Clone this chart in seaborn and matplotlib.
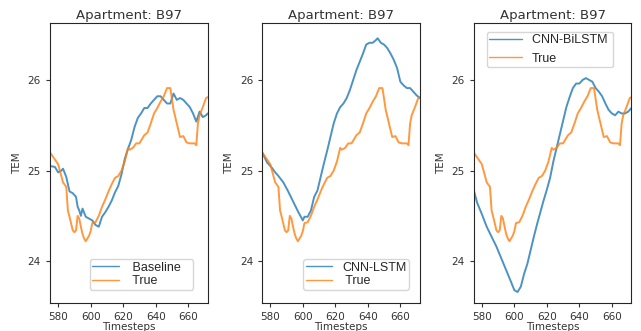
import matplotlib
matplotlib.use("Agg")
from matplotlib import pyplot as plt
import pandas as pd
import seaborn as sns

# measured true temperature
true_x = [575, 580, 583, 585, 586, 587, 589, 590, 591, 592, 593, 594, 595, 596, 597, 599,
          600, 601, 603, 605, 607, 609, 611, 613, 615, 617, 619, 621, 623, 624, 626, 628,
          630, 633, 635, 637, 639, 641, 643, 645, 647, 649, 651, 653, 655, 657, 659, 661,
          663, 664, 665, 666, 667, 669, 671, 672]
true_y = [25.2, 25.07, 24.87, 24.82, 24.56, 24.49, 24.34, 24.32, 24.34, 24.5, 24.47, 24.38,
          24.3, 24.25, 24.22, 24.28, 24.33, 24.42, 24.43, 24.5, 24.6, 24.68, 24.77, 24.85,
          24.92, 24.94, 25.0, 25.1, 25.25, 25.23, 25.25, 25.3, 25.3, 25.39, 25.42, 25.52,
          25.63, 25.69, 25.76, 25.82, 25.91, 25.91, 25.67, 25.52, 25.37, 25.38, 25.31, 25.3,
          25.3, 25.3, 25.28, 25.52, 25.61, 25.7, 25.8, 25.81]

baseline_x = [575, 578, 580, 582, 583, 585, 587, 589, 591, 592, 593, 594, 595, 597, 599,
              601, 603, 605, 607, 609, 611, 613, 615, 617, 619, 621, 623, 625, 627, 629,
              631, 633, 635, 637, 639, 641, 643, 645, 647, 649, 651, 653, 655, 657, 659,
              661, 663, 665, 667, 669, 671, 672]
baseline_y = [25.05, 25.04, 24.98, 25.0, 25.02, 24.93, 24.77, 24.75, 24.71, 24.6, 24.56,
              24.5, 24.58, 24.49, 24.47, 24.45, 24.4, 24.38, 24.49, 24.54, 24.6, 24.67,
              24.76, 24.83, 24.96, 25.13, 25.24, 25.34, 25.48, 25.58, 25.63, 25.69, 25.69,
              25.74, 25.78, 25.82, 25.82, 25.78, 25.74, 25.74, 25.85, 25.78, 25.8, 25.78,
              25.74, 25.7, 25.63, 25.54, 25.65, 25.59, 25.61, 25.63]

cnn_lstm_x = [575, 578, 581, 583, 585, 588, 591, 594, 597, 600, 601, 603, 605, 607, 609,
              611, 613, 615, 617, 619, 621, 623, 625, 627, 629, 631, 633, 635, 637, 639,
              641, 643, 645, 646, 648, 650, 652, 654, 656, 658, 660, 662, 664, 666, 668,
              670, 672]
cnn_lstm_y = [25.2, 25.09, 25.03, 24.98, 24.94, 24.87, 24.77, 24.66, 24.55, 24.45, 24.49,
              24.49, 24.56, 24.71, 24.78, 24.93, 25.08, 25.22, 25.37, 25.52, 25.63, 25.7,
              25.74, 25.8, 25.89, 26.0, 26.11, 26.2, 26.29, 26.39, 26.41, 26.41, 26.44,
              26.46, 26.41, 26.39, 26.35, 26.29, 26.22, 26.13, 25.98, 25.94, 25.91, 25.91,
              25.87, 25.83, 25.8]

cnn_bilstm_x = [575, 577, 580, 583, 586, 589, 592, 595, 598, 600, 602, 604, 606, 608, 610,
                612, 614, 616, 618, 620, 622, 624, 626, 628, 630, 632, 634, 636, 638, 640,
                642, 644, 646, 648, 650, 652, 654, 656, 658, 660, 662, 664, 666, 668, 670,
                672]
cnn_bilstm_y = [24.79, 24.65, 24.52, 24.38, 24.27, 24.16, 24.03, 23.9, 23.77, 23.68, 23.66,
                23.72, 23.86, 23.97, 24.12, 24.27, 24.41, 24.54, 24.67, 24.79, 24.92, 25.1,
                25.25, 25.4, 25.55, 25.7, 25.81, 25.91, 25.96, 25.96, 26.0, 26.02, 26.0,
                25.98, 25.91, 25.87, 25.82, 25.74, 25.67, 25.63, 25.61, 25.65, 25.63, 25.63,
                25.65, 25.69]

pred_labels = [" Baseline   ", "CNN-LSTM", "CNN-BiLSTM "]
true_labels = [" True", " True", "True"]
preds = [(baseline_x, baseline_y), (cnn_lstm_x, cnn_lstm_y), (cnn_bilstm_x, cnn_bilstm_y)]

sns.set_style("ticks")
plt.rcParams["font.family"] = ["DejaVu Sans"]

fig = plt.figure(figsize=(6.41, 3.31), dpi=100)
lefts = [0.078, 0.409, 0.739]
# legend loc, anchor, label spacing, handle length per panel
legend_pos = [("lower left", (0.253, 0.046), 0.15, 2.1),
              ("lower left", (0.262, 0.046), 0.15, 2.1),
              ("upper left", (0.083, 0.968), 0.5, 2.6)]

true_df = pd.DataFrame({"t": true_x, "v": true_y})
for i, (px, py) in enumerate(preds):
    ax = fig.add_axes([lefts[i], 0.085, 0.246, 0.846])
    pdf = pd.DataFrame({"t": px, "v": py})
    sns.lineplot(data=pdf, x="t", y="v", ax=ax, color="#1f77b4", alpha=0.8,
                 linewidth=1.4, label=pred_labels[i])
    sns.lineplot(data=true_df, x="t", y="v", ax=ax, color="#ff7f0e", alpha=0.8,
                 linewidth=1.4, label=true_labels[i])
    ax.set_xlim(575, 672)
    ax.set_ylim(23.54, 26.63)
    ax.set_xticks([580, 600, 620, 640, 660])
    ax.set_yticks([24, 25, 26])
    ax.tick_params(labelsize=7.5, colors="#333333", length=3)
    ax.set_title("Apartment: B97", fontsize=9.5, color="#333333", pad=3)
    ax.set_xlabel("Timesteps", fontsize=7.5, color="#333333", labelpad=0)
    ax.set_ylabel("TEM", fontsize=7.5, color="#333333")
    loc, anchor, spacing, hlen = legend_pos[i]
    leg = ax.legend(loc=loc, bbox_to_anchor=anchor, borderaxespad=0,
                    prop={"family": "Liberation Sans", "size": 9},
                    handlelength=hlen, handletextpad=0.8, borderpad=0.2,
                    labelspacing=spacing)
    for ln in leg.get_lines():
        ln.set_linewidth(1.0)

fig.savefig("out.png", dpi=100)
